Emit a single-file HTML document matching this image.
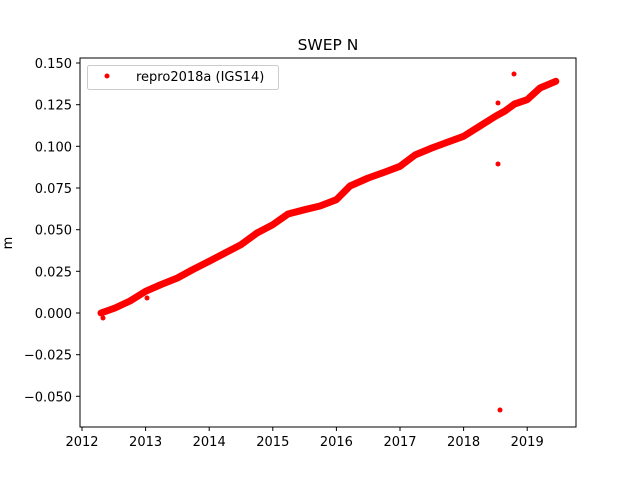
<!DOCTYPE html>
<html><head><meta charset="utf-8"><style>body{margin:0;background:#fff}svg{display:block}text{font-family:"DejaVu Sans","Liberation Sans",sans-serif;font-size:13px;fill:#000}</style></head><body>
<svg width="640" height="480" xmlns="http://www.w3.org/2000/svg">
<rect width="640" height="480" fill="#fff"/>
<text x="328" y="50" text-anchor="middle" style="font-size:15.5px">SWEP N</text>
<text x="12" y="243" text-anchor="middle" transform="rotate(-90 12 243)">m</text>
<polyline fill="none" stroke="#f00" stroke-width="7" stroke-linejoin="round" stroke-linecap="round" points="101,313 115,308 130,301 145.6,291.3 160,285 177.4,278 192,270 209.2,261.3 225,253 241,244.7 257,233 272.8,224.7 288,214 304.6,209.7 320,206 336.4,199.7 350,186 368.2,178 385,172 400,166.3 415,155 431.8,148 448,142 463.6,136.3 480,126 495.4,116.3 505,111 514.5,104 527.2,99.7 540,88 555.8,81.3"/>
<g fill="#f00"><circle cx="498" cy="164" r="2.5"/><circle cx="514" cy="74" r="2.5"/><circle cx="500" cy="410" r="2.5"/><circle cx="498" cy="103" r="2.5"/><circle cx="490" cy="120" r="2.5"/><circle cx="103" cy="318" r="2.5"/><circle cx="147" cy="298" r="2.5"/><circle cx="475" cy="128" r="2.5"/></g>
<rect x="80" y="58" width="496" height="369" fill="none" stroke="#000" stroke-width="1"/>
<g stroke="#000">
<line x1="82" y1="427" x2="82" y2="431"/><line x1="145.6" y1="427" x2="145.6" y2="431"/><line x1="209.2" y1="427" x2="209.2" y2="431"/><line x1="272.8" y1="427" x2="272.8" y2="431"/><line x1="336.4" y1="427" x2="336.4" y2="431"/><line x1="400" y1="427" x2="400" y2="431"/><line x1="463.6" y1="427" x2="463.6" y2="431"/><line x1="527.2" y1="427" x2="527.2" y2="431"/>
<line x1="76" y1="63" x2="80" y2="63"/><line x1="76" y1="104.7" x2="80" y2="104.7"/><line x1="76" y1="146.3" x2="80" y2="146.3"/><line x1="76" y1="188" x2="80" y2="188"/><line x1="76" y1="229.7" x2="80" y2="229.7"/><line x1="76" y1="271.3" x2="80" y2="271.3"/><line x1="76" y1="313" x2="80" y2="313"/><line x1="76" y1="354.7" x2="80" y2="354.7"/><line x1="76" y1="396.3" x2="80" y2="396.3"/>
</g>
<g text-anchor="middle"><text x="82" y="446">2012</text><text x="145.6" y="446">2013</text><text x="209.2" y="446">2014</text><text x="272.8" y="446">2015</text><text x="336.4" y="446">2016</text><text x="400" y="446">2017</text><text x="463.6" y="446">2018</text><text x="527.2" y="446">2019</text></g>
<g text-anchor="end"><text x="72" y="68">0.150</text><text x="72" y="109.7">0.125</text><text x="72" y="151.3">0.100</text><text x="72" y="193">0.075</text><text x="72" y="234.7">0.050</text><text x="72" y="276.3">0.025</text><text x="72" y="318">0.000</text><text x="72" y="359.7">−0.025</text><text x="72" y="401.3">−0.050</text></g>
<rect x="87.5" y="65.5" width="191" height="24" rx="2" fill="#fff" stroke="#ccc"/>
<circle cx="107" cy="76" r="2.5" fill="#f00"/>
<text x="136" y="81">repro2018a (IGS14)</text>
</svg>
</body></html>
